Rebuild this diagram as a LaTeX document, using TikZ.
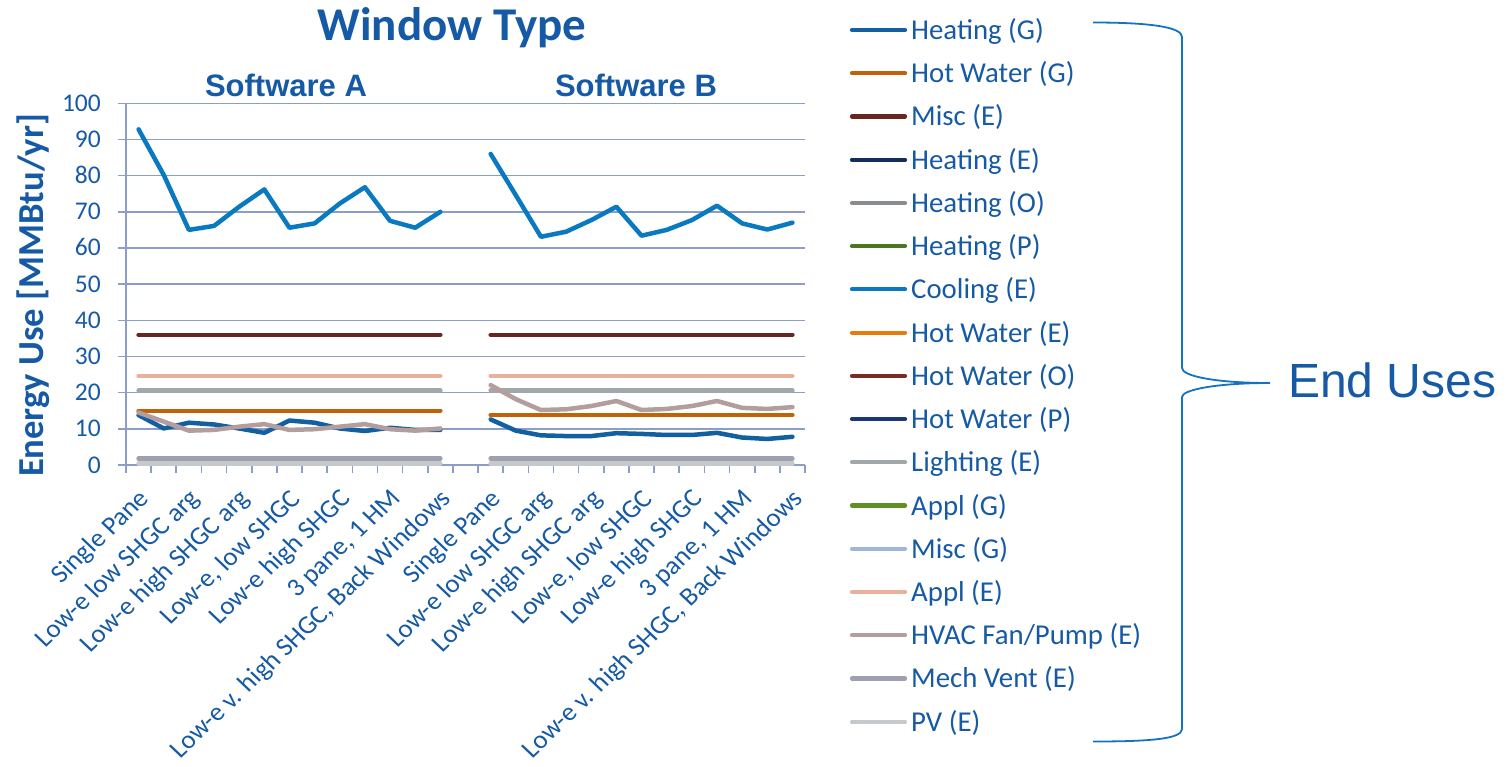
\documentclass[tikz,border=0pt]{standalone}
\usepackage{fontspec}
\setmainfont{Carlito}
\newfontfamily\arialfam{Liberation Sans}

% palette
\definecolor{txt}{RGB}{22,90,165}
\definecolor{gridc}{RGB}{140,157,201}
\definecolor{heatG}{RGB}{18,96,160}
\definecolor{hwG}{RGB}{192,98,8}
\definecolor{miscE}{RGB}{104,38,32}
\definecolor{heatE}{RGB}{20,44,94}
\definecolor{heatO}{RGB}{138,141,144}
\definecolor{heatP}{RGB}{74,118,32}
\definecolor{coolE}{RGB}{10,122,192}
\definecolor{hwE}{RGB}{230,124,12}
\definecolor{hwO}{RGB}{122,44,36}
\definecolor{hwP}{RGB}{26,56,116}
\definecolor{lightE}{RGB}{162,167,170}
\definecolor{applG}{RGB}{94,144,36}
\definecolor{miscG}{RGB}{160,182,216}
\definecolor{applE}{RGB}{233,177,154}
\definecolor{hvacE}{RGB}{180,157,157}
\definecolor{mvE}{RGB}{158,160,178}
\definecolor{pvE}{RGB}{198,201,204}
\definecolor{bracec}{RGB}{20,115,192}

\tikzset{
  series/.style={line width=4.5pt, line cap=round, line join=round},
  gridline/.style={draw=gridc, line width=1.6pt},
  ticklabel/.style={inner sep=0pt, text=txt, font=\fontsize{25.5}{28}\selectfont},
  catlabel/.style={inner sep=0pt, text=txt, font=\fontsize{25.8}{28}\selectfont},
  legendtext/.style={inner sep=0pt, text=txt, font=\fontsize{28.8}{32}\selectfont},
}

\begin{document}
\begin{tikzpicture}[x=1pt,y=-1pt]
\useasboundingbox (0,0) rectangle (1511,766);

% titles
\node[anchor=base, inner sep=0pt, text=txt, font=\bfseries\fontsize{47}{50}\selectfont] (title) at (452,40) {Window Type};
\node[anchor=base, inner sep=0pt, text=txt, font=\arialfam\bfseries\fontsize{31}{34}\selectfont] (swA) at (286,96) {Software A};
\node[anchor=base, inner sep=0pt, text=txt, font=\arialfam\bfseries\fontsize{31}{34}\selectfont] (swB) at (636,96) {Software B};
\node[rotate=90, anchor=base, inner sep=0pt, text=txt, font=\bfseries\fontsize{36.6}{40}\selectfont] (ylab) at (43,295.5) {Energy Use [MMBtu/yr]};

% value axis labels
\foreach \k in {0,...,10} {
  \pgfmathtruncatemacro\val{10*\k}
  \node[ticklabel, anchor=base east] (yt\k) at (101,{465-36.17*\k+8}) {\val};
}

% category labels (slanted, slightly widened)
\foreach \g in {0,14} {
  \foreach \t [count=\i from 0] in {Single Pane, Low-e low SHGC arg, Low-e high SHGC arg, {Low-e, low SHGC}, Low-e high SHGC, {3 pane, 1 HM}, {Low-e v. high SHGC, Back Windows}} {
    \node[catlabel, xscale=1.05, rotate=45, anchor=east] (xl\g-\i) at ({126+(2*\i+0.5+\g)*25.148+7},495) {\t};
  }
}

% plot area: one unit across = one category, one unit up = 1 MMBtu/yr
\begin{scope}[shift={(126,465)}, x=25.148pt, y=3.617pt]
  \foreach \k in {0,...,10} \draw[gridline] (-0.318,{10*\k}) -- (27,{10*\k});
  \foreach \k in {0,...,27} \draw[gridline] (\k,0) -- (\k,-2.2);
  \draw[gridline] (0,0) -- (0,100);

  % Heating (G)
  \draw[series, heatG] plot coordinates {(0.5,13.8) (1.5,10.1) (2.5,11.7) (3.5,11.2) (4.5,10.1) (5.5,8.9) (6.5,12.3) (7.5,11.7) (8.5,10.1) (9.5,9.4) (10.5,10.3) (11.5,9.7) (12.5,9.7)};
  \draw[series, heatG] plot coordinates {(14.5,12.6) (15.5,9.5) (16.5,8.2) (17.5,8.0) (18.5,8.0) (19.5,8.8) (20.5,8.6) (21.5,8.3) (22.5,8.3) (23.5,8.9) (24.5,7.6) (25.5,7.2) (26.5,7.8)};
  % Hot Water (G)
  \draw[series, hwG] (0.5,15.0) -- (12.5,15.0);
  \draw[series, hwG] (14.5,13.8) -- (26.5,13.8);
  % Misc (E)
  \draw[series, miscE] (0.5,36) -- (12.5,36);
  \draw[series, miscE] (14.5,36) -- (26.5,36);
  % Cooling (E)
  \draw[series, coolE] plot coordinates {(0.5,92.8) (1.5,80.2) (2.5,65.0) (3.5,66.1) (4.5,71.4) (5.5,76.2) (6.5,65.6) (7.5,66.8) (8.5,72.3) (9.5,76.8) (10.5,67.5) (11.5,65.6) (12.5,70.0)};
  \draw[series, coolE] plot coordinates {(14.5,86.0) (15.5,74.6) (16.5,63.1) (17.5,64.5) (18.5,67.7) (19.5,71.4) (20.5,63.4) (21.5,65.0) (22.5,67.7) (23.5,71.7) (24.5,66.8) (25.5,65.1) (26.5,67.0)};
  % Lighting (E)
  \draw[series, lightE] (0.5,20.6) -- (12.5,20.6);
  \draw[series, lightE] (14.5,20.6) -- (26.5,20.6);
  % Appl (E)
  \draw[series, applE] (0.5,24.6) -- (12.5,24.6);
  \draw[series, applE] (14.5,24.6) -- (26.5,24.6);
  % HVAC Fan/Pump (E)
  \draw[series, hvacE] plot coordinates {(0.5,14.5) (1.5,12.0) (2.5,9.5) (3.5,9.7) (4.5,10.6) (5.5,11.3) (6.5,9.7) (7.5,9.9) (8.5,10.6) (9.5,11.3) (10.5,9.9) (11.5,9.5) (12.5,10.1)};
  \draw[series, hvacE] plot coordinates {(14.5,22.1) (15.5,18.2) (16.5,15.2) (17.5,15.4) (18.5,16.3) (19.5,17.7) (20.5,15.2) (21.5,15.5) (22.5,16.3) (23.5,17.7) (24.5,15.8) (25.5,15.5) (26.5,16.0)};
  % Mech Vent (E)
  \draw[series, mvE] (0.5,1.75) -- (12.5,1.75);
  \draw[series, mvE] (14.5,1.75) -- (26.5,1.75);
  % PV (E)
  \draw[series, pvE] (0.5,0.45) -- (12.5,0.45);
  \draw[series, pvE] (14.5,0.45) -- (26.5,0.45);
\end{scope}

% legend
\foreach \c/\t [count=\i from 0] in {heatG/{Heating (G)}, hwG/{Hot Water (G)}, miscE/{Misc (E)}, heatE/{Heating (E)}, heatO/{Heating (O)}, heatP/{Heating (P)}, coolE/{Cooling (E)}, hwE/{Hot Water (E)}, hwO/{Hot Water (O)}, hwP/{Hot Water (P)}, lightE/{Lighting (E)}, applG/{Appl (G)}, miscG/{Misc (G)}, applE/{Appl (E)}, hvacE/{HVAC Fan/Pump (E)}, mvE/{Mech Vent (E)}, pvE/{PV (E)}} {
  \draw[\c, line width=4.2pt, line cap=round] (852,{30+43.23*\i}) -- (905,{30+43.23*\i});
  \node[legendtext, anchor=base west] (lg\i) at (911,{39.5+43.23*\i}) {\t};
}

% brace gathering the legend
\draw[bracec, line width=1.8pt] (1093,22.5) .. controls (1150,22.5) and (1182,27) .. (1182,37)
  -- (1182,368) .. controls (1182,376) and (1215,383) .. (1270,383)
  .. controls (1215,383) and (1182,390) .. (1182,397)
  -- (1182,729) .. controls (1182,739) and (1150,741.5) .. (1093,741.5);
\node[anchor=base west, inner sep=0pt, text=txt, font=\arialfam\fontsize{48}{51}\selectfont] (eu) at (1288,397.5) {End Uses};
\end{tikzpicture}
\end{document}
